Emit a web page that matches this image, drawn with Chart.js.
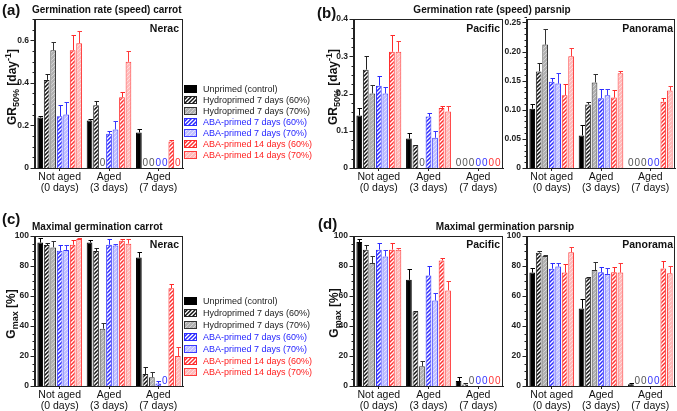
<!DOCTYPE html>
<html>
<head>
<meta charset="utf-8">
<script src="https://cdn.jsdelivr.net/npm/chart.js@4.4.0/dist/chart.umd.min.js"></script>
<style>
  body { margin: 0; background: #fff; font-family: "Liberation Sans", Arial, sans-serif; }
  #wrap { position: relative; width: 677px; height: 411px; overflow: hidden; }
  #wrap canvas.chart { position: absolute; left: 0; top: 0; }
  .txt { position: absolute; white-space: nowrap; color: #111; line-height: 1; }
  .panel { font-weight: bold; font-size: 15px; }
  .title { font-weight: bold; font-size: 10px; }
  .cultivar { font-weight: bold; font-size: 10.5px; }
  .ytitle { font-weight: bold; font-size: 12px; }
  .ytitle sub, .ytitle sup { font-size: 9px; }
  .ytitle sub { vertical-align: -3px; }
  .ytitle sup { vertical-align: 5px; }
  .leg { font-size: 9px; }
  .sw { position: absolute; }
</style>
</head>
<body>
<div id="wrap"></div>
<script>
// categories and series
const categories = [['Not aged', '(0 days)'], ['Aged', '(3 days)'], ['Aged', '(7 days)']];
const seriesNames = [
  'Unprimed (control)',
  'Hydroprimed 7 days (60%)',
  'Hydroprimed 7 days (70%)',
  'ABA-primed 7 days (60%)',
  'ABA-primed 7 days (70%)',
  'ABA-primed 14 days (60%)',
  'ABA-primed 14 days (70%)'
];

// one row per series: not aged, aged 3 d, aged 7 d
const neracGR = [
  [0.237, 0.223, 0.167],
  [0.414, 0.295, 0],
  [0.553, 0, 0],
  [0.243, 0.161, 0],
  [0.251, 0.181, 0],
  [0.553, 0.332, 0.124],
  [0.586, 0.499, 0]
];
const neracGRErr = [
  [0.006, 0.005, 0.014],
  [0.028, 0.021, 0],
  [0.04, 0, 0],
  [0.055, 0.011, 0],
  [0.058, 0.039, 0],
  [0.07, 0.026, 0.006],
  [0.059, 0.05, 0]
];
const pacificGR = [
  [0.141, 0.079, 0],
  [0.264, 0.061, 0],
  [0.2, 0, 0],
  [0.221, 0.138, 0],
  [0.2, 0.081, 0],
  [0.312, 0.161, 0],
  [0.312, 0.152, 0]
];
const pacificGRErr = [
  [0.021, 0.016, 0],
  [0.037, 0.002, 0],
  [0.023, 0, 0],
  [0.027, 0.009, 0],
  [0.018, 0.017, 0],
  [0.045, 0.006, 0],
  [0.029, 0.014, 0]
];
const panoramaGR = [
  [0.102, 0.056, 0],
  [0.166, 0.109, 0],
  [0.212, 0.147, 0],
  [0.148, 0.12, 0],
  [0.145, 0.125, 0],
  [0.125, 0.121, 0.114],
  [0.192, 0.163, 0.133]
];
const panoramaGRErr = [
  [0.008, 0.018, 0],
  [0.015, 0.005, 0],
  [0.026, 0.015, 0],
  [0.006, 0.015, 0],
  [0.019, 0.01, 0],
  [0.02, 0.013, 0.007],
  [0.015, 0.004, 0.008]
];
const neracGmax = [
  [95.6, 95.6, 85.6],
  [94.0, 90.0, 8.0],
  [92.4, 38.2, 5.8],
  [90.2, 94.2, 1.6],
  [90.7, 93.6, 0],
  [94.2, 96.9, 65.1],
  [98.0, 94.9, 20.0]
];
const neracGmaxErr = [
  [2.9, 1.5, 3.5],
  [1.1, 2.0, 4.4],
  [4.0, 3.8, 3.3],
  [3.6, 4.0, 2.0],
  [3.1, 1.3, 0],
  [2.9, 0.9, 2.9],
  [0.5, 3.3, 6.2]
];
const pacificGmax = [
  [96.0, 70.8, 3.3],
  [90.9, 49.7, 1.0],
  [82.0, 13.1, 0],
  [90.9, 73.7, 0],
  [86.4, 57.0, 0],
  [90.9, 83.7, 0],
  [90.9, 63.7, 0]
];
const pacificGmaxErr = [
  [1.8, 7.2, 2.9],
  [3.3, 0.5, 1.0],
  [4.6, 3.8, 0],
  [4.2, 6.3, 0],
  [4.5, 4.7, 0],
  [4.2, 1.6, 0],
  [1.3, 6.5, 0]
];
const panoramaGmax = [
  [75.6, 51.6, 1.1],
  [88.9, 72.2, 0],
  [86.7, 77.3, 0],
  [78.2, 75.8, 0],
  [79.6, 74.7, 0],
  [75.6, 75.8, 78.4],
  [89.1, 75.6, 75.1]
];
const panoramaGmaxErr = [
  [2.9, 6.7, 1.1],
  [1.3, 0.7, 0],
  [0.7, 5.1, 0],
  [3.6, 3.3, 0],
  [2.2, 3.8, 0],
  [6.0, 3.3, 4.9],
  [3.3, 6.2, 5.1]
];

const W = 677, H = 411;
const wrap = document.getElementById('wrap');

// bar looks: solid / hatched / light hatched
function hatch(bg, line, lw) {
  const c = document.createElement('canvas');
  c.width = 4; c.height = 4;
  const x = c.getContext('2d');
  x.fillStyle = bg;
  x.fillRect(0, 0, 4, 4);
  if (line) {
    x.strokeStyle = line;
    x.lineWidth = lw;
    x.beginPath();
    x.moveTo(0, 4); x.lineTo(4, 0);
    x.moveTo(-1, 1); x.lineTo(1, -1);
    x.moveTo(3, 5); x.lineTo(5, 3);
    x.stroke();
  }
  return x.createPattern(c, 'repeat');
}
const styles = [
  { fill: '#000', border: '#000', text: '#222', zero: '#555' },
  { fill: hatch('#fff', '#111', 1.5), border: '#222', text: '#222', zero: '#555' },
  { fill: hatch('#b0b0b0', '#d4d4d4', 1), border: '#333', text: '#222', zero: '#555' },
  { fill: hatch('#fff', '#2a2aff', 1.5), border: '#2a2aff', text: '#1f1fff', zero: '#3333ff' },
  { fill: hatch('#c0c0ff', '#e2e2ff', 1), border: '#3a3aff', text: '#1f1fff', zero: '#3333ff' },
  { fill: hatch('#fff', '#ff3030', 1.5), border: '#ff2a2a', text: '#ff2020', zero: '#ff3333' },
  { fill: hatch('#ffbaba', '#ffdcdc', 1), border: '#ff3a3a', text: '#ff2020', zero: '#ff3333' }
];

// error bars, "0" labels, frame and y tick marks
const extras = {
  id: 'extras',
  afterDatasetsDraw(chart) {
    const ctx = chart.ctx, y = chart.scales.y;
    ctx.save();
    chart.data.datasets.forEach((ds, i) => {
      chart.getDatasetMeta(i).data.forEach((bar, j) => {
        const v = ds.data[j], e = ds.errors[j];
        const x = Math.round(bar.x) + 0.5;
        if (v === 0) {
          ctx.fillStyle = ds.zeroColor;
          ctx.font = '10px "Liberation Sans", Arial, sans-serif';
          ctx.textAlign = 'center';
          ctx.textBaseline = 'bottom';
          ctx.fillText('0', bar.x, y.getPixelForValue(0) + 0.5);
        } else if (e > 0) {
          const y0 = y.getPixelForValue(v), y1 = Math.round(y.getPixelForValue(v + e)) + 0.5;
          ctx.strokeStyle = ds.borderColor;
          ctx.lineWidth = 1;
          ctx.beginPath();
          ctx.moveTo(x, y0);
          ctx.lineTo(x, y1);
          ctx.moveTo(x - 2, y1);
          ctx.lineTo(x + 2.5, y1);
          ctx.stroke();
        }
      });
    });
    ctx.restore();
  },
  afterDraw(chart) {
    const ctx = chart.ctx, a = chart.chartArea, y = chart.scales.y;
    const o = chart.options.plugins.extras;
    ctx.save();
    ctx.strokeStyle = '#222';
    ctx.lineWidth = 1;
    ctx.strokeRect(a.left - 0.5, a.top + 0.5, a.right - a.left, a.bottom - a.top);
    ctx.beginPath();
    const n = Math.round(y.max / o.minor + 1e-6);
    for (let k = 0; k <= n; k++) {
      const v = k * o.minor;
      const isMajor = Math.abs(v / o.major - Math.round(v / o.major)) < 1e-6;
      const py = Math.round(y.getPixelForValue(v)) + 0.5;
      ctx.moveTo(a.left - (isMajor ? 4.5 : 2.5), py);
      ctx.lineTo(a.left, py);
    }
    ctx.stroke();
    ctx.restore();
  }
};

function makeChart(values, errors, box, max, major, minor, dec) {
  const cv = document.createElement('canvas');
  cv.className = 'chart';
  cv.width = W; cv.height = H;
  wrap.appendChild(cv);
  const yW = 30, xH = 32;
  new Chart(cv, {
    type: 'bar',
    data: {
      labels: categories,
      datasets: values.map((row, i) => ({
        label: seriesNames[i],
        data: row,
        errors: errors[i],
        backgroundColor: styles[i].fill,
        borderColor: styles[i].border,
        zeroColor: styles[i].zero,
        borderWidth: 1,
        categoryPercentage: 0.92,
        barPercentage: 0.88
      }))
    },
    options: {
      responsive: false,
      animation: false,
      devicePixelRatio: 1,
      layout: {
        padding: { left: box[0] - yW, top: box[1], right: W - box[2], bottom: H - box[3] - xH }
      },
      plugins: {
        legend: { display: false },
        tooltip: { enabled: false },
        extras: { major: major, minor: minor }
      },
      scales: {
        x: {
          grid: { display: true, drawOnChartArea: false, offset: false, tickLength: 3, color: '#222' },
          border: { display: true, color: '#222', width: 1 },
          ticks: {
            color: '#111', padding: 0, maxRotation: 0, autoSkip: false,
            font: { family: '"Liberation Sans", Arial, sans-serif', size: 10.5, lineHeight: 1.1 }
          },
          afterFit(s) { s.height = xH; s.paddingLeft = 0; s.paddingRight = 0; }
        },
        y: {
          min: 0, max: max,
          grid: { display: false, drawTicks: false },
          border: { display: true, color: '#222', width: 1 },
          ticks: {
            color: '#222', padding: 6,
            font: { family: '"Liberation Sans", Arial, sans-serif', size: 8.5, weight: 'bold' },
            callback: v => (v === 0 ? '0' : v.toFixed(dec))
          },
          afterBuildTicks(s) {
            const t = [];
            for (let k = 0; k * major <= max + 1e-9; k++) t.push({ value: +(k * major).toFixed(4) });
            s.ticks = t;
          },
          afterFit(s) { s.width = yW; s.paddingTop = 0; s.paddingBottom = 0; }
        }
      }
    },
    plugins: [extras]
  });
}

makeChart(neracGR, neracGRErr, [35, 19, 183, 168], 0.7, 0.2, 0.05, 1);
makeChart(pacificGR, pacificGRErr, [354, 19, 503, 168], 0.4, 0.1, 0.025, 1);
makeChart(panoramaGR, panoramaGRErr, [527, 19, 675, 168], 0.256, 0.05, 0.01, 2);
makeChart(neracGmax, neracGmaxErr, [35, 236, 183, 386], 100, 20, 5, 0);
makeChart(pacificGmax, pacificGmaxErr, [354, 236, 503, 386], 100, 20, 5, 0);
makeChart(panoramaGmax, panoramaGmaxErr, [527, 236, 675, 386], 100, 20, 5, 0);

// text
function addText(html, cls, x, y, anchor, rotate) {
  const d = document.createElement('div');
  d.className = 'txt ' + cls;
  d.innerHTML = html;
  d.style.left = x + 'px';
  d.style.top = y + 'px';
  const tx = anchor === 'c' ? '-50%' : anchor === 'r' ? '-100%' : '0';
  d.style.transform = 'translate(' + tx + ',-50%)' + (rotate ? ' rotate(-90deg)' : '');
  wrap.appendChild(d);
}
addText('(a)', 'panel', 2, 9, 'l');
addText('(b)', 'panel', 317, 12, 'l');
addText('(c)', 'panel', 2, 218, 'l');
addText('(d)', 'panel', 318, 223, 'l');
addText('Germination rate (speed) carrot', 'title', 32, 10, 'l');
addText('Germination rate (speed) parsnip', 'title', 492, 10, 'c');
addText('Maximal germination carrot', 'title', 32, 227, 'l');
addText('Maximal germination parsnip', 'title', 505, 227, 'c');
addText('Nerac', 'cultivar', 179, 28, 'r');
addText('Pacific', 'cultivar', 500, 28, 'r');
addText('Panorama', 'cultivar', 673, 28, 'r');
addText('Nerac', 'cultivar', 179, 244, 'r');
addText('Pacific', 'cultivar', 500, 244, 'r');
addText('Panorama', 'cultivar', 673, 244, 'r');
addText('GR<sub>50%</sub> [day<sup>-1</sup>]', 'ytitle', 12, 87, 'c', true);
addText('GR<sub>50%</sub> [day<sup>-1</sup>]', 'ytitle', 333, 87, 'c', true);
addText('G<sub>max</sub> [%]', 'ytitle', 12, 314, 'c', true);
addText('G<sub>max</sub> [%]', 'ytitle', 335, 313, 'c', true);

// legends
function addLegend(top, step) {
  seriesNames.forEach((name, i) => {
    const y = top + i * step;
    const sw = document.createElement('canvas');
    sw.className = 'sw';
    sw.width = 13; sw.height = 8;
    sw.style.left = '184px';
    sw.style.top = Math.round(y - 4) + 'px';
    const c = sw.getContext('2d');
    c.fillStyle = styles[i].fill;
    c.fillRect(0, 0, 13, 8);
    c.strokeStyle = styles[i].border;
    c.lineWidth = 1;
    c.strokeRect(0.5, 0.5, 12, 7);
    wrap.appendChild(sw);
    addText(name, 'leg', 203, y, 'l');
    wrap.lastChild.style.color = styles[i].text;
  });
}
addLegend(89, 11);
addLegend(301, 11.9);
</script>
</body>
</html>
